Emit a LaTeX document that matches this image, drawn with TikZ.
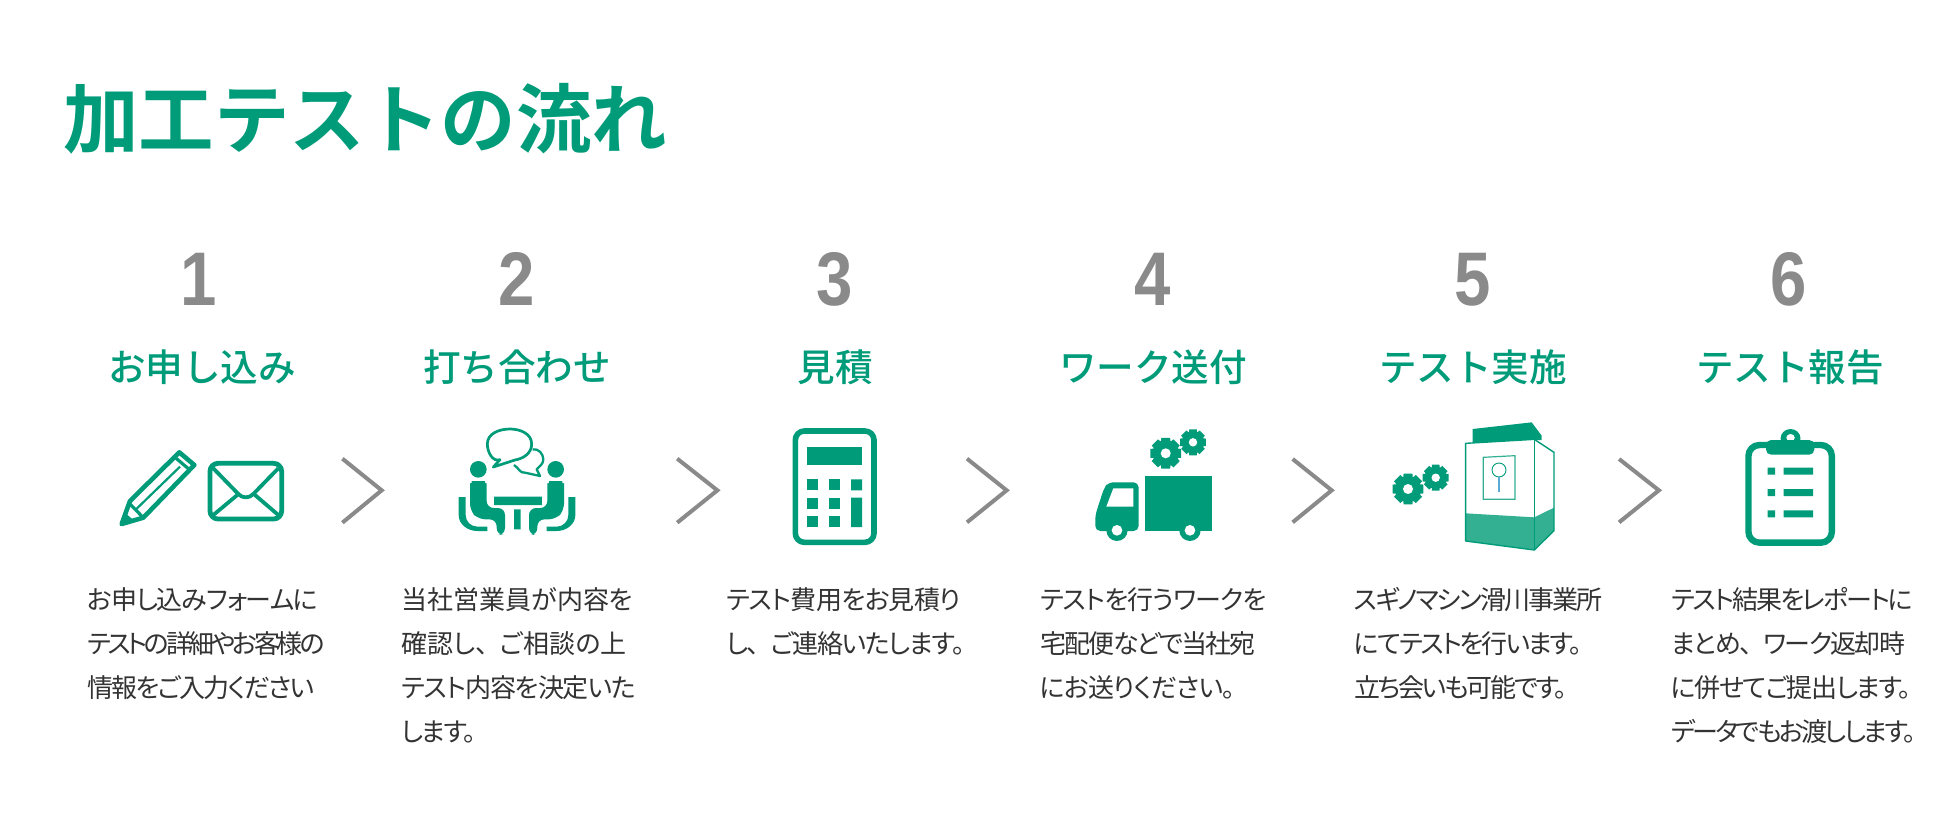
\documentclass[tikz,border=0pt]{standalone}
\usepackage{fontspec}
\setmainfont{Noto Sans CJK JP}
\newfontfamily\jpbody{Noto Sans CJK JP}[RawFeature=+palt]
\newfontfamily\jpmed{Noto Sans CJK JP}[UprightFont=* Medium]
\newfontfamily\jptitle{Noto Sans CJK JP}[UprightFont=* Bold]
\newfontfamily\numfont{Liberation Sans}[UprightFont=* Bold]
\definecolor{teal1}{RGB}{0,156,122}
\definecolor{teal2}{RGB}{51,176,146}
\definecolor{grey1}{RGB}{138,138,138}
\definecolor{txt}{RGB}{51,51,51}
\definecolor{blue1}{RGB}{90,170,215}
\newlength\fitlen
\newcommand{\fitline}[3]{{\settowidth\fitlen{#3}\pgfmathsetmacro\lsv{(#1-\fitlen)/(#2*26)*100}\edef\fitdo{\noexpand\addfontfeature{LetterSpace=\lsv}}\fitdo #3}}
\newcommand{\gearat}[4]{%
 \fill[teal1] (#1,#2) circle (#3*0.82);
 \foreach \a in {0,45,...,315}{
  \fill[teal1] ({#1+#3*0.74*cos(\a-24)},{#2+#3*0.74*sin(\a-24)}) -- ({#1+#3*cos(\a-16)},{#2+#3*sin(\a-16)}) -- ({#1+#3*cos(\a+16)},{#2+#3*sin(\a+16)}) -- ({#1+#3*0.74*cos(\a+24)},{#2+#3*0.74*sin(\a+24)}) -- cycle;}
 \fill[white] (#1,#2) circle (#4);}
\tikzset{
 title/.style={anchor=base west,inner sep=0,text=teal1,font=\jptitle\fontsize{75.5}{75.5}\selectfont},
 num/.style={anchor=base,inner sep=0,text=grey1,font=\numfont\fontsize{76}{76}\selectfont},
 head/.style={anchor=base,inner sep=0,text=teal1,font=\jpmed\fontsize{37.6}{37.6}\selectfont},
 body/.style={anchor=north west,inner sep=0,align=left,text=txt,font=\jpbody\fontsize{26}{44.2}\selectfont},
 chev/.style={draw=grey1,line width=4pt,miter limit=10},
 ico/.style={draw=teal1,line join=round},
 zoomA/.style={shift={(100,420)},x=0.3333pt,y=-0.3333pt},
 zoomM/.style={shift={(450,420)},x=0.3333pt,y=-0.3333pt},
 zoomB/.style={shift={(780,420)},x=0.3333pt,y=-0.3333pt},
 zoomC/.style={shift={(1280,410)},x=0.3827pt,y=-0.3333pt},
 zoomD/.style={shift={(1380,415)},x=0.3333pt,y=-0.3333pt},
 zoomE/.style={shift={(100,420)},x=0.4464pt,y=-0.3333pt},
}
\newcommand{\dgt}[1]{\scalebox{.86}[1]{#1}}
\begin{document}
\begin{tikzpicture}[x=1pt,y=-1pt]
\useasboundingbox (0,0) rectangle (1950,839);
\fill[white] (0,0) rectangle (1950,839);
\node[title] (t) at (63,147) {加工テストの流れ};
% numbers
\node[num] (n1) at (198.5,305.5) {\dgt{1}};
\node[num] (n2) at (517,305.5) {\dgt{2}};
\node[num] (n3) at (835,305.5) {\dgt{3}};
\node[num] (n4) at (1153,305.5) {\dgt{4}};
\node[num] (n5) at (1473,305.5) {\dgt{5}};
\node[num] (n6) at (1789,305.5) {\dgt{6}};
% headings
\node[head] (h1) at (202,381.5) {お申し込み};
\node[head] (h2) at (517,381.5) {打ち合わせ};
\node[head] (h3) at (835,381.5) {見積};
\node[head] (h4) at (1153,381.5) {ワーク送付};
\node[head] (h5) at (1473,381.5) {テスト実施};
\node[head] (h6) at (1790,381.5) {テスト報告};
% body
\node[body] (b1) at (87,587) {\fitline{230}{10}{お申し込みフォームに}\\\fitline{234}{11}{テストの詳細やお客様の}\\\fitline{226}{10}{情報をご入力ください}};
\node[body] (b2) at (401,587) {\fitline{232}{9}{当社営業員が内容を}\\\fitline{226}{9}{確認し、\hspace{11pt}ご相談の上}\\\fitline{234}{10}{テスト内容を決定いた}\\\fitline{73}{4}{します。}};
\node[body] (b3) at (726,587) {\fitline{234}{10}{テスト費用をお見積り}\\\fitline{236}{11}{し、\hspace{11pt}ご連絡いたします。}};
\node[body] (b4) at (1040,587) {\fitline{226}{10}{テストを行うワークを}\\\fitline{214}{9}{宅配便などで当社宛}\\\fitline{194}{9}{にお送りください。}};
\node[body] (b5) at (1354,587) {\fitline{246}{11}{スギノマシン滑川事業所}\\\fitline{226}{11}{にてテストを行います。}\\\fitline{211}{10}{立ち会いも可能です。}};
\node[body] (b6) at (1671,587) {\fitline{240}{11}{テスト結果をレポートに}\\\fitline{231}{10}{まとめ、\hspace{11pt}ワーク返却時}\\\fitline{239}{11}{に併せてご提出します。}\\\fitline{242}{12}{データでもお渡しします。}};
% pencil and envelope
\begin{scope}[zoomA]
 \draw[ico,line width=4.6pt] (65,312) -- (90,243) -- (238,97) -- (283,135) -- (130,293) -- cycle;
 \fill[teal1] (60,318) -- (75,278) -- (103,303) -- cycle;
 \draw[ico,line width=3.2pt] (88,250) -- (130,293) (225,112) -- (272,152);
 \draw[ico,line width=2.2pt] (108,268) -- (240,140);
 \draw[ico,line width=4.8pt,rounded corners=8pt] (330,130) rectangle (545,297);
 \draw[ico,line width=3.8pt] (340,145) -- (415,222) to[out=-50,in=-130] (460,222) -- (535,145) (340,285) -- (412,225) (535,285) -- (465,225);
\end{scope}
% meeting
\begin{scope}[zoomM]
 \draw[ico,line width=2.7pt] (150,119) to[out=200,in=-90] (112,72) to[out=90,in=180] (180,27) to[out=0,in=90] (245,72) to[out=-90,in=10] (195,120) -- (130,141) -- cycle;
 \draw[ico,line width=2.3pt] (248,88) to[out=10,in=90] (280,118) to[out=-90,in=50] (260,148) -- (270,168) -- (225,158) to[out=190,in=-30] (192,135);
 \foreach \m in {0,1}{
 \begin{scope}[xshift={\m*134pt},xscale={1-2*\m}]
 \fill[teal1] (85,148) circle (25);
 \fill[teal1,rounded corners=7pt] (60,210) to[out=90,in=180] (85,183) to[out=0,in=90] (110,210) -- (110,264) -- (165,264) -- (165,345) -- (140,345) -- (140,298) -- (85,298) -- (60,272) -- cycle;
 \fill[teal1] (26,231) -- (47,231) -- (47,285) to[out=-90,in=180] (82,320) -- (112,320) -- (112,333) -- (82,333) to[out=180,in=-90] (26,285) -- cycle;
 \end{scope}}
 \fill[teal1] (132,230) rectangle (276,255) (192,268) rectangle (212,328);
\end{scope}
\begin{scope}[zoomE]
 \draw[chev] (543,116) -- (631,211) -- (543,308);
 \draw[chev] (1293,116) -- (1383,211) -- (1293,308);
\end{scope}
\begin{scope}[zoomB]
 \draw[chev] (561,116) -- (680,211) -- (561,307);
 % calculator
 \draw[ico,line width=5.6pt,rounded corners=9pt] (46,33) rectangle (282,367);
 \fill[teal1] (82,80) rectangle (246,134);
 \foreach \xa/\xb in {82/115,148/181}{\foreach \ya/\yb in {178/211,233/266,288/321}{\fill[teal1] (\xa,\ya) rectangle (\xb,\yb);}}
 \fill[teal1] (213,178) rectangle (246,211) (213,233) rectangle (246,321);
 % truck
 \fill[teal1] (1095,168) rectangle (1297,333);
 \fill[teal1,rounded corners=5pt] (1076,187) -- (985,187) -- (972,205) -- (946,285) -- (946,333) -- (1076,333) -- cycle;
 \fill[white] (1060,205) -- (1000,205) -- (979,260) -- (1060,260) -- cycle;
 \fill[teal1] (1011,331) circle (32) (1230,331) circle (32);
 \fill[white] (1011,331) circle (16) (1230,331) circle (16);
\end{scope}
\gearat{1165.7}{453.3}{16}{5}
\gearat{1193}{442.3}{13.5}{4.2}
\begin{scope}[zoomC]
 \draw[chev] (33,147) -- (135,241) -- (33,337);
 \draw[chev] (886,147) -- (990,241) -- (886,337);
 % clipboard
 \draw[ico,line width=6.4pt,rounded corners=11pt] (1224,105) rectangle (1442,398);
 \fill[teal1] (1334,85) ellipse [x radius=26,y radius=28];
 \fill[white] (1334,83) ellipse [x radius=11,y radius=11];
 \fill[teal1,rounded corners=5pt] (1270,90) -- (1396,90) -- (1396,134) -- (1270,134) -- cycle;
 \foreach \ya/\yb in {173/194,237/258,301/322}{\fill[teal1] (1274,\ya) rectangle (1294,\yb) (1316,\ya) rectangle (1393,\yb);}
\end{scope}
% machine
\begin{scope}[zoomD]
 \fill[teal1] (278,42) -- (455,22) -- (485,62) -- (485,75) -- (278,86) -- cycle;
 \fill[white] (257,85) -- (463,73) -- (522,112) -- (522,347) -- (463,405) -- (257,378) -- cycle;
 \fill[teal2] (257,295) -- (463,307) -- (522,278) -- (522,347) -- (463,405) -- (257,378) -- cycle;
 \draw[teal1,line width=1.4pt,line join=round] (257,85) -- (463,73) -- (522,112) -- (522,347) -- (463,405) -- (257,378) -- cycle;
 \draw[teal1,line width=.8pt] (463,73) -- (463,405);
 \draw[teal2,line width=1.2pt] (310,127) -- (405,122) -- (405,253) -- (310,253) -- cycle;
 \draw[teal1,line width=.9pt] (357,165) circle (21);
 \draw[blue1,line width=1.2pt] (357,186) -- (357,232);
\end{scope}
\gearat{1408}{489}{16}{5}
\gearat{1435.7}{477.7}{13.5}{4.2}
\end{tikzpicture}
\end{document}
